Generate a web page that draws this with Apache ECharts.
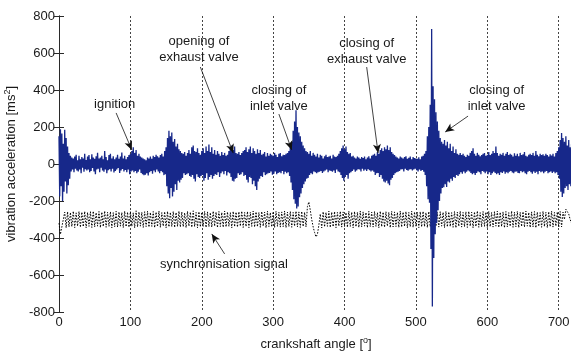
<!DOCTYPE html>
<html>
<head>
<meta charset="utf-8">
<script src="https://cdn.jsdelivr.net/npm/echarts@6/dist/echarts.min.js"></script>
<style>
  html, body { margin: 0; padding: 0; background: #fff; }
  #chart { width: 571px; height: 351px; }
</style>
</head>
<body>
<div id="chart"></div>
<script>
// x ticks / y ticks
var xTicks = [0, 100, 200, 300, 400, 500, 600, 700];
var yTicks = [-800, -600, -400, -200, 0, 200, 400, 600, 800];

// vibration acceleration, one value per degree (0..720)
var vibStep = 1;
var vibration = [
  150,-175,188,-120,165,-200,110,-150,185,-95,140,-160,95,-115,60,-80,45,-40,35,-30,
  30,-45,40,-25,50,-35,20,-40,45,-30,25,-50,38,-20,30,-42,55,-28,22,-35,
  40,-30,48,-45,25,-38,52,-22,35,-40,28,-55,42,-30,60,-25,30,-45,35,-20,
  45,-35,25,-42,70,-30,38,-50,20,-33,48,-28,55,-40,30,-25,42,-46,26,-38,
  35,-30,50,-22,28,-48,40,-35,62,-27,30,-40,45,-32,25,-45,38,-30,48,-55,
  55,-40,70,-35,90,-45,60,-38,75,-50,45,-42,55,-30,40,-48,35,-55,30,-60,
  25,-58,20,-50,35,-62,30,-45,40,-38,28,-52,45,-35,38,-44,50,-30,42,-40,
  35,-50,48,-38,55,-45,40,-60,70,-55,90,-120,140,-160,180,-185,150,-130,170,-175,
  120,-150,135,-110,95,-140,110,-90,80,-100,70,-85,60,-75,55,-50,65,-60,45,-55,
  60,-50,75,-65,55,-70,90,-60,100,-80,70,-95,65,-55,85,-70,60,-75,50,-65,
  70,-60,85,-90,60,-75,95,-50,70,-85,105,-70,65,-60,90,-80,55,-65,75,-55,
  50,-60,70,-45,55,-70,45,-50,65,-40,48,-55,60,-38,45,-62,50,-44,70,-50,
  85,-70,100,-90,75,-95,95,-80,60,-75,55,-50,65,-60,48,-55,60,-45,70,-65,
  75,-60,90,-85,65,-100,80,-70,95,-75,60,-110,85,-90,70,-120,55,-140,80,-95,
  60,-80,75,-65,50,-70,55,-45,65,-60,40,-55,60,-50,45,-48,55,-40,50,-58,
  45,-52,60,-40,50,-55,38,-48,55,-45,60,-50,42,-38,50,-55,48,-42,55,-50,
  60,-45,70,-65,90,-100,120,-140,180,-190,230,-215,290,-240,200,-230,170,-180,150,-160,
  120,-130,100,-110,85,-95,70,-80,65,-75,55,-60,70,-50,45,-55,60,-40,50,-45,
  40,-50,55,-45,35,-42,50,-38,45,-48,30,-40,42,-35,50,-30,38,-45,40,-35,
  45,-38,30,-42,50,-35,40,-48,38,-30,45,-40,55,-45,70,-60,85,-75,100,-90,
  80,-70,95,-60,65,-80,55,-50,60,-45,40,-38,45,-30,35,-42,30,-35,40,-28,
  35,-30,28,-40,38,-25,32,-36,40,-30,25,-38,35,-28,42,-33,30,-40,45,-35,
  50,-42,55,-60,45,-50,65,-48,55,-70,75,-60,85,-80,70,-95,90,-100,80,-90,
  100,-105,75,-115,90,-85,65,-75,55,-60,48,-50,40,-45,35,-42,30,-38,40,-30,
  35,-28,30,-40,38,-25,42,-32,28,-36,33,-30,40,-28,25,-35,38,-30,32,-26,
  30,-34,28,-40,36,-30,25,-38,40,-32,45,-42,55,-60,70,-120,150,-190,200,-210,
  320,-460,730,-770,420,-508,350,-380,280,-320,230,-250,180,-200,140,-160,120,-130,110,-125,
  130,-110,100,-124,120,-95,85,-100,110,-80,70,-90,95,-70,60,-75,80,-60,55,-65,
  50,-55,60,-45,48,-52,55,-40,45,-50,38,-42,50,-35,45,-40,60,-48,70,-55,
  85,-50,55,-60,45,-48,60,-40,50,-45,42,-55,48,-38,55,-42,60,-50,45,-40,
  50,-55,65,-45,48,-60,55,-50,70,-42,60,-48,95,-55,60,-50,45,-60,55,-45,
  50,-48,60,-40,45,-52,55,-45,65,-50,48,-42,55,-38,50,-46,40,-50,58,-42,
  45,-40,55,-48,42,-50,60,-38,48,-45,52,-40,65,-50,45,-55,40,-42,50,-38,
  55,-45,48,-52,60,-40,45,-48,70,-42,50,-55,42,-38,55,-45,48,-40,52,-50,
  45,-42,55,-38,48,-50,40,-45,52,-40,46,-48,55,-42,40,-50,60,-45,70,-60,
  90,-80,130,-150,168,-178,140,-160,120,-130,150,-120,100,-140,130,-110,90,-120,110,-95,80
];

// synchronisation signal, one value every 2 degrees (0..720)
var syncStep = 2;
var syncSignal = [
  -320,-380,-390,-300,-260,-345,-258,-340,-262,-338,-255,-344,-264,-336,-257,-342,-260,-339,-256,-345,
  -262,-337,-258,-343,-255,-340,-263,-336,-257,-344,-260,-338,-254,-342,-261,-337,-258,-345,-263,-339,
  -256,-341,-259,-336,-262,-344,-255,-339,-260,-342,-257,-337,-264,-345,-253,-340,-259,-336,-261,-343,
  -258,-338,-255,-341,-262,-337,-257,-344,-260,-339,-254,-342,-263,-336,-258,-345,-256,-340,-261,-338,
  -257,-343,-262,-337,-255,-341,-259,-339,-264,-344,-256,-336,-260,-342,-253,-338,-262,-345,-258,-340,
  -261,-337,-256,-343,-259,-339,-263,-341,-255,-336,-260,-344,-257,-338,-262,-342,-254,-340,-259,-337,
  -263,-345,-256,-339,-260,-341,-258,-336,-255,-343,-262,-338,-257,-344,-261,-337,-254,-341,-259,-339,
  -262,-342,-257,-336,-260,-345,-255,-338,-263,-340,-258,-343,-256,-337,-261,-341,-259,-339,-254,-344,
  -260,-338,-257,-342,-262,-336,-255,-340,-259,-343,-256,-338,-261,-340,-230,-205,-250,-300,-340,-370,
  -394,-380,-330,-270,-345,-258,-340,-262,-337,-255,-343,-260,-339,-257,-344,-262,-336,-256,-341,-259,
  -338,-263,-342,-255,-337,-260,-345,-257,-339,-261,-343,-254,-340,-259,-336,-262,-344,-256,-338,-260,
  -341,-257,-337,-263,-345,-255,-339,-260,-342,-258,-336,-261,-344,-256,-340,-259,-338,-262,-343,-254,
  -341,-260,-337,-257,-345,-262,-339,-255,-342,-259,-336,-261,-344,-258,-340,-256,-338,-263,-343,-257,
  -339,-260,-345,-255,-337,-262,-341,-258,-336,-261,-344,-256,-340,-259,-338,-263,-342,-257,-345,-260,
  -337,-255,-341,-262,-339,-258,-343,-256,-336,-261,-345,-259,-338,-254,-342,-263,-340,-257,-337,-260,
  -344,-256,-339,-262,-341,-258,-336,-255,-343,-261,-338,-259,-345,-257,-340,-263,-337,-254,-342,-260,
  -339,-256,-344,-261,-338,-258,-341,-255,-336,-262,-343,-259,-340,-257,-345,-260,-337,-263,-342,-256,
  -338,-261,-344,-258,-339,-255,-341,-262,-336,-259,-343,-257,-340,-260,-300,-245,-235,-270,-300,-320,
  -330
];

// annotations: [text, text x, text y, arrow from x, y, arrow to x, y] in data units
var notes = [
  ['ignition', 78, 324, 80, 276, 102, 76],
  ['opening of\nexhaust valve', 196, 622, 198, 524, 244, 59],
  ['closing of\ninlet valve', 308, 357, 308, 270, 326, 76],
  ['closing of\nexhaust valve', 431, 611, 431, 524, 447, 59],
  ['closing of\ninlet valve', 613, 357, 573, 259, 541, 173],
  ['synchronisation signal', 231, -541, 232, -486, 214, -378]
];

var font = 'Liberation Sans, Arial, sans-serif';
var textColor = '#1a1a1a';
var frameColor = '#2a2a2a';

var vibData = vibration.map(function(v, i) { return [i * vibStep, v]; });
var syncData = syncSignal.map(function(v, i) { return [i * syncStep, v]; });

var arrows = notes.map(function(n) {
    return [{coord: [n[3], n[4]]}, {coord: [n[5], n[6]]}];
});

var myChart = echarts.init(document.getElementById('chart'));
var option = {
    animation: false,
    textStyle: { fontFamily: font },
    grid: { left: 59, top: 16, width: 514, height: 296, outerBoundsMode: 'none', containLabel: false },
    xAxis: [{
        type: 'value',
        min: 0, max: 720, interval: 100,
        name: '{a|crankshaft angle [}{s|o}{a|]}',
        nameLocation: 'middle',
        nameGap: 24,
        nameTextStyle: {
            rich: {
                a: { fontSize: 13, color: textColor, fontFamily: font },
                s: { fontSize: 9, color: textColor, fontFamily: font, padding: [0, 0, 8, 0] }
            }
        },
        axisLine: { show: true, lineStyle: { color: frameColor, width: 1 } },
        axisTick: { show: true, inside: true, length: 5, lineStyle: { color: frameColor } },
        axisLabel: {
            color: textColor, fontSize: 13, margin: 4, showMaxLabel: false,
            formatter: function(v) { return xTicks.indexOf(v) >= 0 ? String(v) : ''; }
        },
        splitLine: { show: true, lineStyle: { color: '#444', width: 1, type: [2, 2] } }
    }, {
        type: 'value', position: 'top',
        min: 0, max: 720, interval: 100,
        axisLine: { show: true, lineStyle: { color: frameColor, width: 1 } },
        axisTick: { show: true, inside: true, length: 5, lineStyle: { color: frameColor } },
        axisLabel: { show: false },
        splitLine: { show: false }
    }],
    yAxis: [{
        type: 'value',
        min: -800, max: 800, interval: 200,
        name: '{a|vibration acceleration [ms}{s|2}{a|]}',
        nameLocation: 'middle',
        nameGap: 36,
        nameTextStyle: {
            rich: {
                a: { fontSize: 13, color: textColor, fontFamily: font },
                s: { fontSize: 9, color: textColor, fontFamily: font, padding: [0, 0, 8, 0] }
            }
        },
        axisLine: { show: true, lineStyle: { color: frameColor, width: 1 } },
        axisTick: { show: true, inside: true, length: 5, lineStyle: { color: frameColor } },
        axisLabel: {
            color: textColor, fontSize: 13, margin: 4,
            formatter: function(v) { return yTicks.indexOf(v) >= 0 ? String(v) : ''; }
        },
        splitLine: { show: false }
    }, {
        type: 'value', position: 'right',
        min: -800, max: 800, interval: 200,
        axisLine: { show: true, lineStyle: { color: frameColor, width: 1 } },
        axisTick: { show: true, inside: true, length: 5, lineStyle: { color: frameColor } },
        axisLabel: { show: false },
        splitLine: { show: false }
    }],
    series: [{
        name: 'vibration',
        type: 'line',
        data: vibData,
        showSymbol: false,
        sampling: null,
        lineStyle: { color: '#17288a', width: 1.3 },
        z: 3
    }, {
        name: 'synchronisation',
        type: 'line',
        data: syncData,
        showSymbol: false,
        lineStyle: { color: '#000', width: 1, type: [1.5, 1.5] },
        z: 2,
        markLine: {
            silent: true,
            symbol: ['none', 'arrow'],
            symbolSize: [6, 9],
            label: { show: false },
            lineStyle: { color: '#111', width: 0.8, type: 'solid' },
            data: arrows
        }
    }]
};
myChart.setOption(option);

// annotation texts, placed through the axes
var texts = notes.map(function(n) {
    var p = myChart.convertToPixel({gridIndex: 0}, [n[1], n[2]]);
    return {
        type: 'text',
        x: p[0], y: p[1],
        z: 10,
        style: {
            text: n[0],
            fill: textColor,
            font: '13px ' + font,
            align: 'center',
            verticalAlign: 'middle',
            lineHeight: 16
        }
    };
});
myChart.setOption({ graphic: texts });

window.onresize = function() {
    myChart.resize();
};
</script>
</body>
</html>
